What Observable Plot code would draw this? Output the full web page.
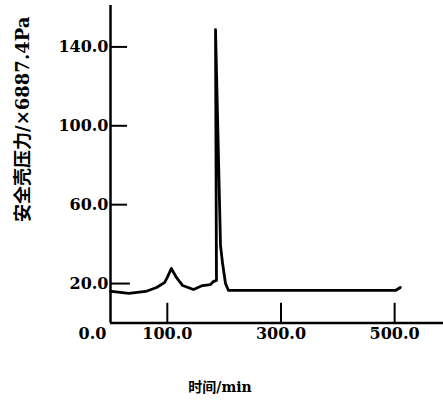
<!DOCTYPE html>
<html>
<head>
<meta charset="utf-8">
<script src="https://cdn.jsdelivr.net/npm/d3@7"></script>
<script src="https://cdn.jsdelivr.net/npm/@observablehq/plot@0.6"></script>
<style>
  html, body { margin: 0; padding: 0; background: #fff; }
  #chart svg { display: block; }
</style>
</head>
<body>
<div id="chart"></div>
<script>
// Time (min) and containment pressure (×6887.4 Pa)
const timeMin  = [0, 2, 32, 62, 81, 95, 100, 107, 116, 127, 146, 162, 176, 181, 186.5, 184.8, 193.6, 197, 202.4, 207.6, 300, 400, 501.5, 510];
const pressure = [16.0, 16.0, 15.0, 16.0, 18.0, 20.5, 23.1, 27.6, 23.1, 19.0, 17.0, 19.0, 19.5, 21.0, 21.6, 148.8, 39.3, 30.7, 20.0, 16.5, 16.5, 16.5, 16.5, 18.0];

const yTicks = [20, 60, 100, 140];
const yTickLabels = ["20.0", "60.0", "100.0", "140.0"];
const xTickMarks = [100, 300, 500];
const xTickLabels = ["100.0", "300.0", "500.0"];
const xZeroLabel = ["0.0"];
const yTitle = "安全壳压力/×6887.4Pa";
const xTitle = "时间/min";

const data = timeMin.map((t, i) => ({t, p: pressure[i]}));
const yTickData = yTicks.map((v, i) => ({v, label: yTickLabels[i]}));
const xTickData = xTickMarks.map((v, i) => ({v, label: xTickLabels[i]}));

const labelFont = "DejaVu Serif, Noto Sans CJK SC, serif";

const chart = Plot.plot({
  width: 443,
  height: 404,
  marginLeft: 110,
  marginRight: 0,
  marginTop: 5,
  marginBottom: 81.5,
  style: {background: "#fff", color: "#000"},
  x: {domain: [0, 586], axis: null},
  y: {domain: [0, 161], axis: null},
  marks: [
    // axes lines
    Plot.ruleX([0], {y1: 0, y2: 161, stroke: "#000", strokeWidth: 2.5}),
    Plot.ruleY([0], {x1: 0, x2: 586, stroke: "#000", strokeWidth: 2.5}),
    // y ticks (inward)
    Plot.ruleY(yTicks.filter(v => v !== 20), {x1: 0, x2: 30, stroke: "#000", strokeWidth: 2}),
    Plot.ruleY([20], {x1: 0, x2: 35, stroke: "#000", strokeWidth: 2}),
    // x ticks (inward)
    Plot.ruleX(xTickMarks, {y1: 0, y2: 10, stroke: "#000", strokeWidth: 2}),
    // y tick labels
    Plot.text(yTickData, {x: 0, y: "v", text: "label", textAnchor: "end", dx: -2, fontSize: 16, fontWeight: "bold", fontFamily: labelFont, fill: "#000"}),
    // x tick labels
    Plot.text(xTickData, {x: "v", y: 0, text: "label", dy: 11, lineAnchor: "middle", fontSize: 16, fontWeight: "bold", fontFamily: labelFont, fill: "#000"}),
    Plot.text(xZeroLabel, {x: 0, y: 0, text: d => d, dy: 11, dx: -18, fontSize: 16, fontWeight: "bold", fontFamily: labelFont, fill: "#000"}),
    // data curve
    Plot.line(data, {x: "t", y: "p", stroke: "#000", strokeWidth: 2.8, strokeLinejoin: "round", curve: "linear"}),
    // axis titles
    Plot.text([yTitle], {frameAnchor: "left", textAnchor: "middle", lineAnchor: "middle", text: d => d, rotate: -90, dx: -87, dy: -45, fontSize: 18, fontWeight: "bold", fontFamily: labelFont, fill: "#000"}),
    Plot.text([xTitle], {frameAnchor: "bottom", textAnchor: "middle", lineAnchor: "middle", text: d => d, dx: -57, dy: 65, fontSize: 14, fontWeight: "bold", fontFamily: labelFont, fill: "#000"})
  ]
});
document.getElementById("chart").appendChild(chart);
</script>
</body>
</html>
